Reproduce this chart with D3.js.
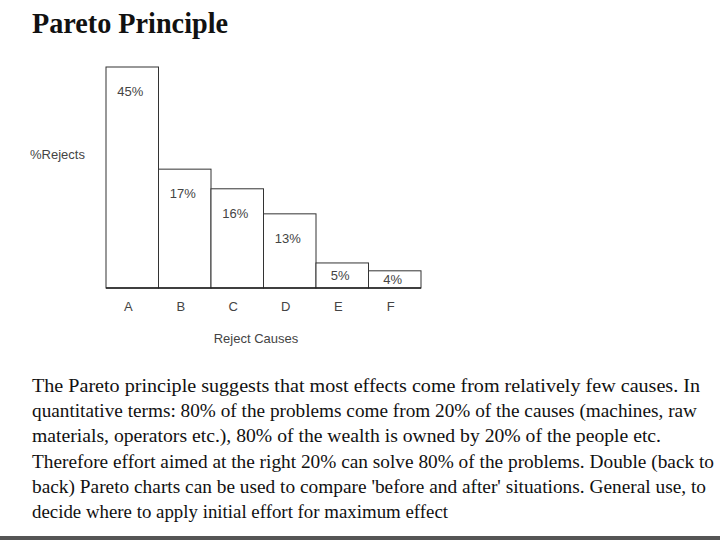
<!DOCTYPE html>
<html>
<head>
<meta charset="utf-8">
<script src="https://cdn.jsdelivr.net/npm/d3@7"></script>
<style>
  html, body { margin: 0; padding: 0; background: #fff; }
  svg { display: block; }
</style>
</head>
<body>
<script>
// ---- data ----
const categories = ["A", "B", "C", "D", "E", "F"];
const percentLabels = ["45%", "17%", "16%", "13%", "5%", "4%"];
// bar heights as drawn in the picture (in % units, A = 45)
const barValues = [45, 24.2, 20.2, 15.1, 5.1, 3.5];
const title = "Pareto Principle";
const yAxisLabel = "%Rejects";
const xAxisLabel = "Reject Causes";
const paragraph = [
  "The Pareto principle suggests that most effects come from relatively few causes. In",
  "quantitative terms: 80% of the problems come from 20% of the causes (machines, raw",
  "materials, operators etc.), 80% of the wealth is owned by 20% of the people etc.",
  "Therefore effort aimed at the right 20% can solve 80% of the problems. Double (back to",
  "back) Pareto charts can be used to compare 'before and after' situations. General use, to",
  "decide where to apply initial effort for maximum effect"
];
const paragraphWidths = [668, 665, 629, 682, 674, 416];

// ---- drawing ----
const W = 720, H = 540;
const svg = d3.select("body").append("svg").attr("width", W).attr("height", H);

svg.append("rect").attr("width", W).attr("height", H).attr("fill", "#fff");

// title
svg.append("text")
  .attr("x", 32).attr("y", 33)
  .attr("font-family", "'Liberation Serif', 'Times New Roman', serif")
  .attr("font-weight", "bold")
  .attr("font-size", 29)
  .attr("textLength", 196).attr("lengthAdjust", "spacingAndGlyphs")
  .attr("fill", "#111")
  .text(title);

const x = d3.scaleBand().domain(categories).range([106, 421]).padding(0);
const y = d3.scaleLinear().domain([0, 45]).range([288, 67]);

const g = svg.append("g");

g.selectAll("rect.bar")
  .data(categories)
  .join("rect")
  .attr("class", "bar")
  .attr("x", d => x(d))
  .attr("y", (d, i) => y(barValues[i]))
  .attr("width", x.bandwidth())
  .attr("height", (d, i) => y(0) - y(barValues[i]))
  .attr("fill", "#fff")
  .attr("stroke", "#333")
  .attr("stroke-width", 1);

// baseline
g.append("line")
  .attr("x1", x.range()[0]).attr("x2", x.range()[1])
  .attr("y1", y(0)).attr("y2", y(0))
  .attr("stroke", "#222").attr("stroke-width", 1.5);

// value labels
g.selectAll("text.val")
  .data(categories)
  .join("text")
  .attr("class", "val")
  .attr("x", d => x(d) + x.bandwidth() / 2 - 2)
  .attr("y", (d, i) => {
    const top = y(barValues[i]);
    return Math.min(top + 24, (top + y(0)) / 2) + 5;
  })
  .attr("text-anchor", "middle")
  .attr("font-family", "'Liberation Sans', Arial, sans-serif")
  .attr("font-size", 13)
  .attr("fill", "#444")
  .text((d, i) => percentLabels[i]);

// x axis (category labels)
const xAxis = d3.axisBottom(x).tickSize(0).tickPadding(0);
const axG = svg.append("g")
  .attr("transform", `translate(-4, ${y(0) + 14})`)
  .call(xAxis);
axG.select(".domain").remove();
axG.selectAll("text")
  .attr("font-family", "'Liberation Sans', Arial, sans-serif")
  .attr("font-size", 13)
  .attr("fill", "#444");

// axis titles
svg.append("text")
  .attr("x", 256).attr("y", 343)
  .attr("text-anchor", "middle")
  .attr("font-family", "'Liberation Sans', Arial, sans-serif")
  .attr("font-size", 13)
  .attr("fill", "#444")
  .text(xAxisLabel);

svg.append("text")
  .attr("x", 30).attr("y", 159)
  .attr("font-family", "'Liberation Sans', Arial, sans-serif")
  .attr("font-size", 13)
  .attr("fill", "#444")
  .text(yAxisLabel);

// paragraph
svg.append("g").selectAll("text")
  .data(paragraph)
  .join("text")
  .attr("x", 32)
  .attr("y", (d, i) => 392 + i * 25.2)
  .attr("font-family", "'Liberation Serif', 'Times New Roman', serif")
  .attr("font-size", 19)
  .attr("fill", "#111")
  .attr("textLength", (d, i) => paragraphWidths[i])
  .attr("lengthAdjust", "spacingAndGlyphs")
  .text(d => d);

// bottom gray band
svg.append("rect")
  .attr("x", 0).attr("y", 536).attr("width", W).attr("height", 4)
  .attr("fill", "#555");
</script>
</body>
</html>
